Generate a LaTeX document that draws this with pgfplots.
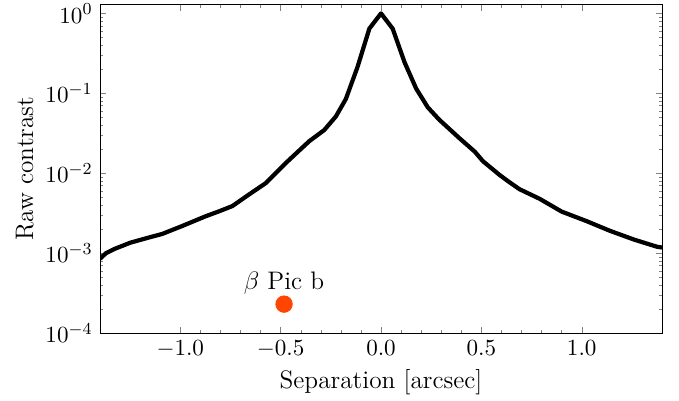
\documentclass[border=0pt]{standalone}
\usepackage{pgfplots}
\pgfplotsset{compat=1.18}
\definecolor{planet}{RGB}{255,69,0}

\begin{document}
\begin{tikzpicture}
\useasboundingbox (-47.4pt,-31.75pt) rectangle (274.4pt,157.84pt);
\begin{axis}[
  scale only axis,
  width=266.35pt, height=155.8pt,
  ymode=log,
  xmin=-1.4, xmax=1.4,
  ymin=1e-4, ymax=1.3,
  xtick={-1,-0.5,0,0.5,1},
  minor x tick num=4,
  ytick={1e-4,1e-3,1e-2,1e-1,1},
  tick align=inside,
  major tick length=3pt,
  minor tick length=1.6pt,
  xticklabel style={/pgf/number format/.cd, fixed, fixed zerofill, precision=1},
  tick label style={font=\fontsize{10.95}{13}\selectfont},
  every axis x label/.style={at={(axis description cs:0.5,0)}, anchor=base, yshift=-26.1pt},
  every axis y label/.style={at={(axis description cs:0,0.5)}, xshift=-31.75pt, rotate=90, anchor=base},
  label style={font=\fontsize{12}{14}\selectfont},
  xlabel={Separation [arcsec]},
  ylabel={Raw contrast},
]
% raw contrast profile
\addplot[black, line width=2.0pt, line join=round] coordinates {
  (-1.400, 8.51e-4)
  (-1.370, 1.000e-3)
  (-1.330, 1.122e-3)
  (-1.250, 1.349e-3)
  (-1.150, 1.585e-3)
  (-1.090, 1.738e-3)
  (-0.990, 2.188e-3)
  (-0.875, 2.884e-3)
  (-0.800, 3.388e-3)
  (-0.740, 3.890e-3)
  (-0.660, 5.370e-3)
  (-0.575, 7.499e-3)
  (-0.467, 1.396e-2)
  (-0.358, 2.512e-2)
  (-0.283, 3.467e-2)
  (-0.225, 5.129e-2)
  (-0.175, 8.511e-2)
  (-0.117, 0.2138)
  (-0.058, 0.6457)
  (0.000, 1.000)
  (0.058, 0.6457)
  (0.117, 0.2455)
  (0.175, 0.1148)
  (0.233, 6.683e-2)
  (0.290, 4.677e-2)
  (0.390, 2.754e-2)
  (0.467, 1.862e-2)
  (0.508, 1.413e-2)
  (0.590, 9.55e-3)
  (0.633, 7.94e-3)
  (0.690, 6.31e-3)
  (0.790, 4.79e-3)
  (0.900, 3.31e-3)
  (1.025, 2.51e-3)
  (1.140, 1.905e-3)
  (1.260, 1.479e-3)
  (1.375, 1.202e-3)
  (1.400, 1.175e-3)
};
% planet
\addplot[planet, only marks, mark=*, mark size=3.9pt, mark options={draw=planet, fill=planet}] coordinates {(-0.483, 2.3e-4)};
\node[anchor=base, yshift=6.8pt, inner sep=0pt, font=\fontsize{12}{14}\selectfont] at (axis cs:-0.483,2.3e-4) {$\beta$ Pic b};
\end{axis}
\end{tikzpicture}
\end{document}
